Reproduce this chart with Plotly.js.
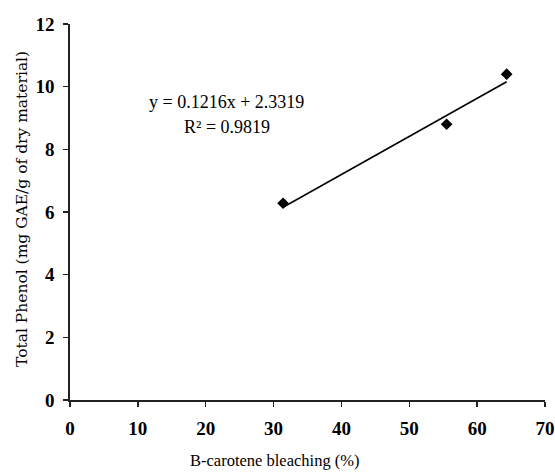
<!DOCTYPE html>
<html>
<head>
<meta charset="utf-8">
<script src="https://cdn.plot.ly/plotly-3.0.1.min.js"></script>
<style>html,body{margin:0;padding:0;background:#fff;}#chart{width:555px;height:475px;}</style>
</head>
<body>
<div id="chart"></div>
<script>
const bleaching = [31.4, 55.5, 64.35];
const phenol = [6.28, 8.8, 10.4];
const slope = 0.1216;
const intercept = 2.3319;
const r2 = 0.9819;
const xTicks = [0, 10, 20, 30, 40, 50, 60, 70];
const yTicks = [0, 2, 4, 6, 8, 10, 12];

const xMin = Math.min(...bleaching), xMax = Math.max(...bleaching);
const trendX = [xMin, xMax];
const trendY = trendX.map(v => slope * v + intercept);

const serif = "'Liberation Serif', 'Times New Roman', serif";

const data = [
  {x: trendX, y: trendY, mode: 'lines', line: {color: '#000', width: 1.6}, hoverinfo: 'skip', showlegend: false},
  {x: bleaching, y: phenol, mode: 'markers', marker: {symbol: 'diamond', size: 9, color: '#000'}, showlegend: false}
];

const tickFont = {family: serif, size: 19, color: '#000', weight: 'bold'};
const W = 555, H = 475, M = {l: 70, r: 10, t: 24, b: 75};
const pw = W - M.l - M.r, ph = H - M.t - M.b;
const px2paperX = p => (p - M.l) / pw;
const px2paperY = p => (H - M.b - p) / ph;

const layout = {
  width: W, height: H,
  margin: M,
  paper_bgcolor: '#fff', plot_bgcolor: '#fff',
  xaxis: {
    range: [0, 70], tickvals: xTicks, ticktext: xTicks.map(String),
    showgrid: false, zeroline: false, showline: true, linecolor: '#222', linewidth: 1.8,
    ticks: 'outside', ticklen: 5, tickwidth: 1.5, tickcolor: '#222',
    tickfont: tickFont, ticklabelstandoff: 5
  },
  yaxis: {
    range: [0, 12], tickvals: yTicks, ticktext: yTicks.map(String),
    showgrid: false, zeroline: false, showline: true, linecolor: '#222', linewidth: 1.8,
    ticks: 'outside', ticklen: 5, tickwidth: 1.5, tickcolor: '#222',
    tickfont: tickFont, ticklabelstandoff: 5
  },
  annotations: [
    {x: 23.1, y: 9.51, xref: 'x', yref: 'y', text: 'y = ' + slope + 'x + ' + intercept, showarrow: false,
     font: {family: serif, size: 18, color: '#000'}},
    {x: 23.1, y: 8.71, xref: 'x', yref: 'y', text: 'R² = ' + r2, showarrow: false,
     font: {family: serif, size: 18, color: '#000'}},
    {x: px2paperX(275), y: px2paperY(461), xref: 'paper', yref: 'paper', text: 'B-carotene bleaching (%)', showarrow: false,
     xanchor: 'center', yanchor: 'middle',
     font: {family: serif, size: 16.5, color: '#000'}},
    {x: px2paperX(22), y: px2paperY(209), xref: 'paper', yref: 'paper', text: 'Total Phenol (mg GAE/g of dry material)', showarrow: false,
     xanchor: 'center', yanchor: 'middle', textangle: -90,
     font: {family: "'DejaVu Serif', serif", size: 15.5, color: '#000'}}
  ]
};

Plotly.newPlot('chart', data, layout, {displayModeBar: false, staticPlot: true});
</script>
</body>
</html>
